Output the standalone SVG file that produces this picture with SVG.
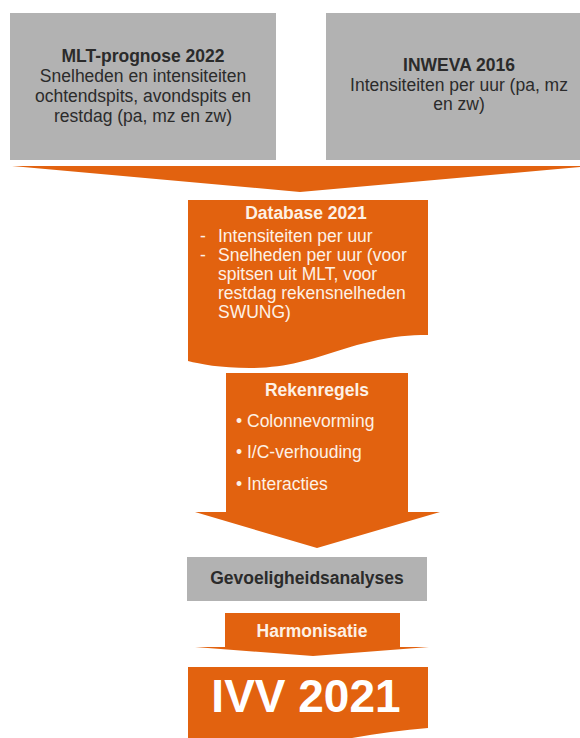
<svg xmlns="http://www.w3.org/2000/svg" width="580" height="738" viewBox="0 0 580 738">
<style>
.gray{fill:#b2b2b2}
.org{fill:#e2620f}
text{font-family:"Liberation Sans",Arial,sans-serif;font-size:17.5px}
.dk{fill:#2b2b2b}
.wt{fill:#fdf1e6}
.b{font-weight:bold}
.mid{text-anchor:middle}
</style>
<rect width="580" height="738" fill="#ffffff"/>
<g id="connectors">
<polygon id="top-funnel" class="org" points="12,166 592,166 300,192"/>
</g>
<g id="mlt">
<rect class="gray" x="10" y="13" width="266" height="147"/>
<text class="dk mid" x="143"><tspan class="b" x="143" y="62">MLT-prognose 2022</tspan><tspan x="143" y="82">Snelheden en intensiteiten</tspan><tspan x="143" y="102">ochtendspits, avondspits en</tspan><tspan x="143" y="122">restdag (pa, mz en zw)</tspan></text>
</g>
<g id="inweva">
<rect class="gray" x="326" y="13" width="266" height="147"/>
<text class="dk mid" x="459"><tspan class="b" x="459" y="71">INWEVA 2016</tspan><tspan x="459" y="91">Intensiteiten per uur (pa, mz</tspan><tspan x="459" y="110">en zw)</tspan></text>
</g>
<g id="database">
<path class="org" d="M188,200 H428 V335 C350,335 320,368 250,368 C220,368 200,364 188,361 Z"/>
<text class="wt b mid" x="306" y="219">Database 2021</text>
<text class="wt"><tspan x="200" y="242">-</tspan><tspan x="218" y="242">Intensiteiten per uur</tspan><tspan x="200" y="261">-</tspan><tspan x="218" y="261">Snelheden per uur (voor</tspan><tspan x="218" y="280">spitsen uit MLT, voor</tspan><tspan x="218" y="299">restdag rekensnelheden</tspan><tspan x="218" y="318">SWUNG)</tspan></text>
</g>
<g id="rekenregels">
<polygon class="org" points="226,373 408,373 408,512 440,512 317,548 195,512 226,512"/>
<text class="wt b mid" x="317" y="396">Rekenregels</text>
<text class="wt"><tspan x="236" y="427">• Colonnevorming</tspan><tspan x="236" y="458">• I/C-verhouding</tspan><tspan x="236" y="490">• Interacties</tspan></text>
</g>
<g id="gevoeligheid">
<rect class="gray" x="187" y="557" width="240" height="44"/>
<text class="dk b mid" x="307" y="584">Gevoeligheidsanalyses</text>
</g>
<g id="harmonisatie">
<polygon class="org" points="225,613 400,613 400,647 429,647 313,656 195,647 225,647"/>
<text class="wt b mid" x="312" y="637">Harmonisatie</text>
</g>
<g id="ivv">
<path class="org" d="M188,667 H428 V728 C400,730 370,735 340,740 L188,740 Z"/>
<text class="b mid" x="306" y="712" style="font-size:46px;fill:#ffffff">IVV 2021</text>
</g>
</svg>
